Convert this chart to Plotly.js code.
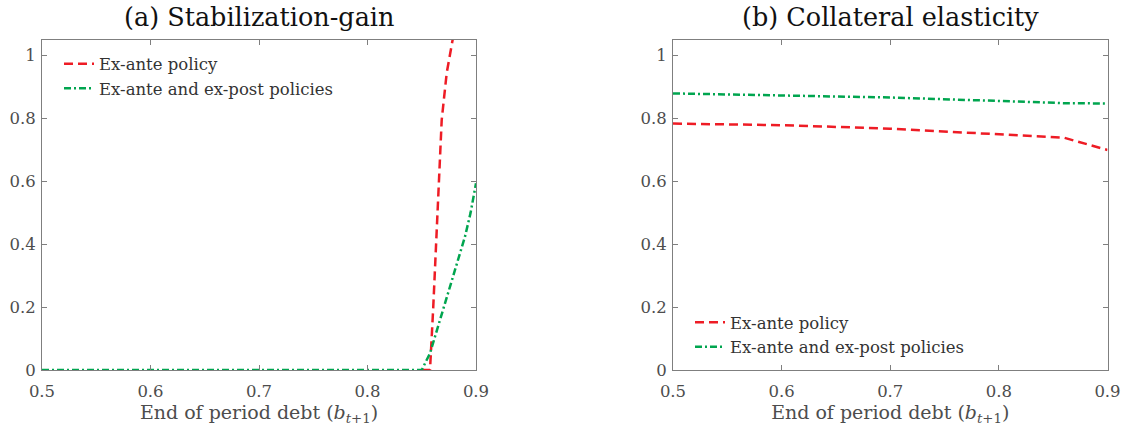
<!DOCTYPE html>
<html><head><meta charset="utf-8">
<script src="https://cdn.plot.ly/plotly-3.0.1.min.js"></script>
<style>body{margin:0;background:#fff}</style>
</head><body>
<div id="chart" style="width:1122px;height:427px"></div>
<script>
// Panel (a) Stabilization-gain
const gainRedX   = [0.850, 0.8576, 0.8606, 0.8628, 0.8647, 0.8662, 0.8684, 0.8730, 0.8776, 0.8810];
const gainRedY   = [0, 0, 0.20, 0.372, 0.53, 0.658, 0.796, 0.945, 1.04, 1.10];
const gainGreenX = [0.50, 0.60, 0.70, 0.80, 0.8500, 0.8576, 0.8684, 0.8806, 0.8899, 0.8950, 0.9000];
const gainGreenY = [0, 0, 0, 0, 0, 0.053, 0.18, 0.318, 0.425, 0.50, 0.594];
// Panel (b) Collateral elasticity
const elasX      = [0.50, 0.60, 0.70, 0.80, 0.86, 0.90];
const elasRedY   = [0.784, 0.779, 0.768, 0.750, 0.739, 0.700];
const elasGreenY = [0.880, 0.874, 0.867, 0.856, 0.849, 0.848];
const seriesNames = ["Ex-ante policy", "Ex-ante and ex-post policies"];
const xTicks = [0.5, 0.6, 0.7, 0.8, 0.9];
const yTicks = [0, 0.2, 0.4, 0.6, 0.8, 1];

const RED = "#ee1c25", GREEN = "#00a54f";
const FONT = "DejaVu Serif";
const redLine = {color: RED, width: 2.5, dash: "9px,5px"};
const greenLine = {color: GREEN, width: 2.5, dash: "7px,3px,2px,3px"};

const traces = [
  {x: gainRedX, y: gainRedY, name: seriesNames[0], mode: "lines", line: redLine, xaxis: "x", yaxis: "y", legend: "legend"},
  {x: gainGreenX, y: gainGreenY, name: seriesNames[1], mode: "lines", line: greenLine, xaxis: "x", yaxis: "y", legend: "legend"},
  {x: elasX, y: elasRedY, name: seriesNames[0], mode: "lines", line: redLine, xaxis: "x2", yaxis: "y2", legend: "legend2"},
  {x: elasX, y: elasGreenY, name: seriesNames[1], mode: "lines", line: greenLine, xaxis: "x2", yaxis: "y2", legend: "legend2"}
];

const axisTitle = "End of period debt (<i>b</i><sub><i>t</i>+1</sub>)";
function xa(domain, anchor) {
  return {domain: domain, anchor: anchor, range: [0.5, 0.9], tickvals: xTicks, ticktext: xTicks.map(v => v.toFixed(1)),
    ticks: "inside", ticklen: 5, tickcolor: "#7f7f7f", showline: true, linecolor: "#7f7f7f", linewidth: 1,
    mirror: "ticks", showgrid: false, zeroline: false, ticklabelstandoff: 6,
    tickfont: {family: FONT, size: 16.5, color: "#4d4d4d"},
    title: {text: axisTitle, font: {family: FONT, size: 19, color: "#4d4d4d"}, standoff: 3}};
}
function ya(anchor) {
  return {domain: [0, 1], anchor: anchor, range: [0, 1.05], tickvals: yTicks, ticktext: yTicks.map(String),
    ticks: "inside", ticklen: 5, tickcolor: "#7f7f7f", showline: true, linecolor: "#7f7f7f", linewidth: 1,
    mirror: "ticks", showgrid: false, zeroline: false, ticklabelstandoff: 2,
    tickfont: {family: FONT, size: 16.5, color: "#4d4d4d"}};
}
const legendBase = {bgcolor: "rgba(0,0,0,0)", font: {family: FONT, size: 16.5, color: "#333"}, tracegroupgap: 0};
const layout = {
  width: 1122, height: 427,
  margin: {l: 0, r: 0, t: 40, b: 57},
  paper_bgcolor: "#fff", plot_bgcolor: "#fff",
  showlegend: true,
  xaxis: xa([42/1122, 476/1122], "y"),
  yaxis: ya("x"),
  xaxis2: xa([673/1122, 1107.5/1122], "y2"),
  yaxis2: ya("x2"),
  legend: Object.assign({x: 59/1122, y: 0.98, xanchor: "left", yanchor: "top"}, legendBase),
  legend2: Object.assign({x: 690/1122, y: 0.197, xanchor: "left", yanchor: "top"}, legendBase),
  annotations: [
    {text: "(a) Stabilization-gain", xref: "paper", yref: "paper", x: (42+476)/2/1122, y: 1, yshift: 23, showarrow: false,
     xanchor: "center", yanchor: "middle", font: {family: FONT, size: 25.5, color: "#111"}},
    {text: "(b) Collateral elasticity", xref: "paper", yref: "paper", x: (673+1107.5)/2/1122, y: 1, yshift: 23, showarrow: false,
     xanchor: "center", yanchor: "middle", font: {family: FONT, size: 25.5, color: "#111"}}
  ]
};
Plotly.newPlot("chart", traces, layout, {displayModeBar: false, staticPlot: true});
</script>
</body></html>
